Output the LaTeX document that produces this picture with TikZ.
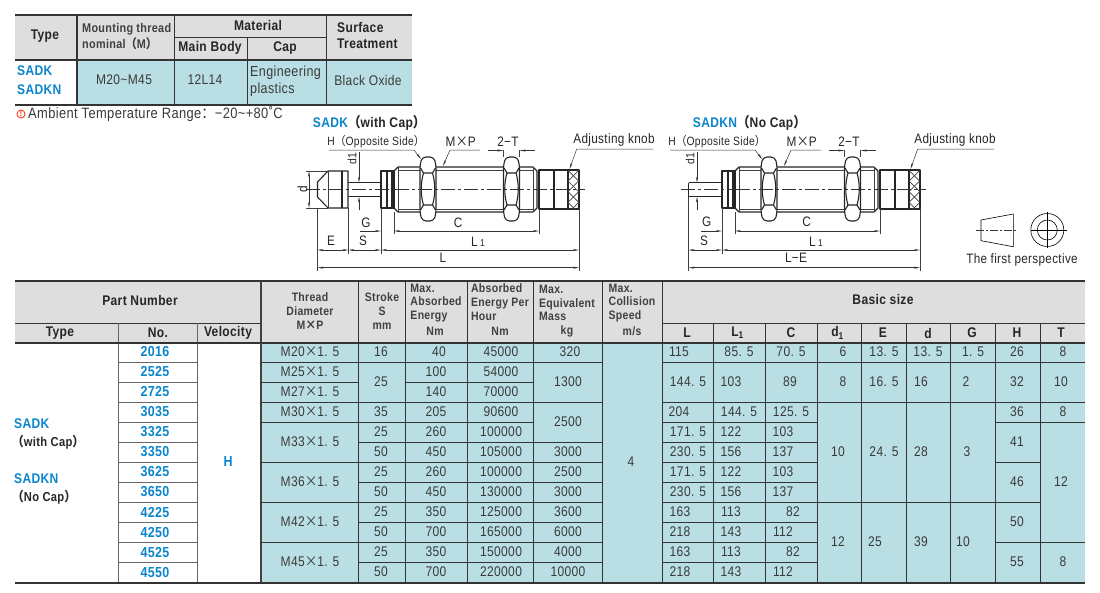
\documentclass[tikz,border=0pt]{standalone}
\usepackage{fontspec}
\setmainfont{Liberation Sans}[FakeStretch=0.86,LetterSpace=2.5]
\newfontfamily\cjk{Noto Sans CJK SC}[FakeStretch=0.9]
\usetikzlibrary{arrows.meta}
\definecolor{headgray}{HTML}{DEDEDE}
\definecolor{cellblue}{HTML}{B9DFE5}
\definecolor{typeblue}{HTML}{0A85CC}
\definecolor{inkgray}{HTML}{3A3A3A}
\newcommand{\fs}[1]{\fontsize{#1}{#1}\selectfont}
\newcommand{\lpar}{{\cjk （}}
\newcommand{\rpar}{{\cjk ）}}
\newcommand{\tms}{{\cjk ×}}
\newcommand{\lone}{L{\fs{10} 1}}
\tikzset{
    cellrule/.style={line width=0.7pt,color=black!80},
    thickrule/.style={line width=2pt,color=black!80},
    celltext/.style={inner sep=0pt,text=inkgray,font=\fs{14}},
    headtext/.style={inner sep=0pt,text=black!85,font=\fs{14}\bfseries},
    smallhead/.style={inner sep=0pt,text=black!75,font=\fs{12.2}\bfseries,align=left},
    typetext/.style={inner sep=0pt,text=typeblue,font=\fs{14}\bfseries},
    outline/.style={line width=1.1pt,black!85,line join=round},
    thinline/.style={line width=0.5pt,black!75},
    centerline/.style={line width=0.5pt,black!80,dash pattern=on 14pt off 3pt on 3pt off 3pt},
    dimline/.style={line width=0.5pt,black!80,{Stealth[length=6pt,width=2pt]}-{Stealth[length=6pt,width=2pt]}},
    leader/.style={line width=0.5pt,black!80,-{Stealth[length=6pt,width=2pt]}},
    dimtext/.style={inner sep=0pt,text=black!85,font=\fs{13.7}},
}
% one column of the main table: row/span/x/text
\newcommand{\tabcol}[4]{
    \foreach \rowno/\spanno/\tx/\ttext in {#4} {
        \draw [cellrule] (#2,{342+20*(\rowno-1)}) -- (#3,{342+20*(\rowno-1)});
        \node [celltext] (#1-\rowno) at (\tx,{342+20*(\rowno-1)+10*\spanno}) {\ttext};
    }
}
% the parts that both shock absorbers share
\newcommand{\hexnut}[1]{
    \draw [outline,fill=white,rounded corners=4pt] (#1+2,157) -- (#1+14,157) -- (#1+16,165) -- (#1+16,213) -- (#1+14,221) -- (#1+2,221) -- (#1,213) -- (#1,165) -- cycle;
    \draw [outline] (#1+0.5,168) -- (#1+3.5,173) -- (#1+12.5,173) -- (#1+15.5,168);
    \draw [outline] (#1+0.5,210) -- (#1+3.5,205) -- (#1+12.5,205) -- (#1+15.5,210);
    \draw [outline] (#1+3.5,173) .. controls (#1+0.5,183) and (#1+0.5,195) .. (#1+3.5,205);
    \draw [outline] (#1+12.5,173) .. controls (#1+15.5,183) and (#1+15.5,195) .. (#1+12.5,205);
}
\newcommand{\shockbody}[1]{
    \draw [outline] (381,171) rectangle (394,208);
    \draw [outline] (387,171) -- (387,208);
    \draw [outline] (392,171) -- (392,208);
    \draw [outline] (394,171) -- (398,167) -- (533,167) -- (537,171) -- (537,208) -- (533,212) -- (398,212) -- (394,208);
    \draw [line width=0.8pt,black!75] (398,170) -- (533,170);
    \draw [line width=0.8pt,black!75] (398,209.5) -- (533,209.5);
    \draw [thinline] (398,167) -- (398,212) (533,167) -- (533,212);
    \draw [outline] (539,170) rectangle (579,209);
    \draw [line width=2.2pt,black!85] (539,170) -- (539,209);
    \draw [outline] (554,170) -- (554,209) (568,170) -- (568,209);
    \begin{scope}
        \clip (568,170) rectangle (579,209);
        \foreach \h in {149,159.667,...,235} {
            \draw [line width=0.7pt,black!75] (568,\h) -- (600,\h+32);
            \draw [line width=0.7pt,black!75] (568,\h) -- (600,\h-32);
        }
    \end{scope}
    \hexnut{420}
    \hexnut{503.5}
    \draw [centerline] (395,189.3) -- (585,189.3);
    % leaders and dimensions
    \node [dimtext,font=\fs{12}] (hside-#1) at (376,142) {H\lpar Opposite Side\rpar};
    \draw [leader] (329,150) -- (414,150) -- (421,159);
    \node [dimtext] (mxp-#1) at (460.7,142) {M\tms P};
    \draw [leader] (480,150) -- (450,150) -- (443,166);
    \node [dimtext] (twot-#1) at (508,142) {2−T};
    \draw [thinline] (503.5,150) -- (503.5,157) (519.5,150) -- (519.5,157);
    \draw [leader] (488,150.5) -- (503.5,150.5);
    \draw [leader] (535,150.5) -- (519.5,150.5);
    \node [dimtext] (knob-#1) at (614,140) {Adjusting knob};
    \draw [leader] (653,149) -- (576.7,149) -- (569.5,169);
    \draw [thinline] (394,212) -- (394,234) (539,209) -- (539,234);
    \draw [thinline] (381,208) -- (381,254);
    \draw [thinline] (579,209) -- (579,271);
    \draw [dimline] (394,231) -- (539,231);
    \draw [dimline] (381,250) -- (579,250);
    \draw [leader] (360,231) -- (381,231);
}
\begin{document}
\begin{tikzpicture}[x=1pt,y=-1pt]
    \useasboundingbox (0,0) rectangle (1100,592);
    % top table
    \fill [headgray] (15,15) rectangle (411.5,60);
    \fill [cellblue] (77,60) rectangle (411.5,105);
    \draw [thickrule] (15,15) -- (411.5,15);
    \draw [thickrule] (15,60) -- (411.5,60);
    \draw [thickrule] (15,105) -- (411.5,105);
    \draw [thickrule] (77,15) -- (77,105);
    \draw [cellrule] (174,15) -- (174,105);
    \draw [cellrule] (247,37.5) -- (247,105);
    \draw [cellrule] (326,15) -- (326,105);
    \draw [cellrule] (174,37.5) -- (326,37.5);
    \node [headtext] (toptype) at (45,36) {Type};
    \node [smallhead,anchor=west,font=\fs{12.6}\bfseries] (topthread) at (82,29) {Mounting thread};
    \node [smallhead,anchor=west,font=\fs{12.6}\bfseries] (topnom) at (82,44) {nominal\lpar M\rpar};
    \node [headtext] (topmat) at (258,25) {Material};
    \node [headtext] (topbody) at (210,48) {Main Body};
    \node [headtext] (topcap) at (285,48) {Cap};
    \node [headtext,anchor=west] (topsurf) at (337,27) {Surface};
    \node [headtext,anchor=west] (toptreat) at (337,44) {Treatment};
    \node [typetext,anchor=west] (topa) at (17,71) {SADK};
    \node [typetext,anchor=west] (topb) at (17,90) {SADKN};
    \node [celltext,font=\fs{14}] (topm) at (124,80) {M20\textasciitilde M45};
    \node [celltext,font=\fs{14}] (topl) at (205,80) {12L14};
    \node [celltext,font=\fs{14.6},anchor=west] (tope) at (250,73) {Engineering};
    \node [celltext,font=\fs{14.6},anchor=west] (topp) at (250,90) {plastics};
    \node [celltext,font=\fs{14}] (topo) at (368,80) {Black Oxide};
    \node [circle,draw=red!70!orange,line width=0.8pt,inner sep=0pt,minimum size=8pt,text=red!70!orange,font=\fs{8}\bfseries] (warn) at (21,114) {!};
    \node [celltext,font=\fs{15},anchor=west] (ambient) at (28,114) {Ambient Temperature Range{\cjk ：}−20\textasciitilde +80˚C};
    % titles
    \node [headtext,anchor=west,font=\fs{14}\bfseries] (titlea) at (312.7,123) {\textcolor{typeblue}{SADK}\lpar with Cap\rpar};
    \node [headtext,anchor=west,font=\fs{14}\bfseries] (titleb) at (692.7,123) {\textcolor{typeblue}{SADKN}\lpar No Cap\rpar};
    % SADK with cap
    \shockbody{a}
    \draw [centerline] (306,189.3) -- (395,189.3);
    \draw [outline] (317.5,182) -- (328,171) -- (348,171) -- (348,208) -- (328,208) -- (317.5,197) -- cycle;
    \draw [outline] (342,171) -- (342,208);
    \draw [thinline] (328,171) -- (328,208);
    \draw [outline] (348,182.7) -- (381,182.7) (348,196.7) -- (381,196.7);
    \draw [thinline] (328,171) -- (306,171) (328,208) -- (306,208);
    \draw [dimline] (309,171) -- (309,208);
    \node [dimtext,rotate=90] (da) at (302.5,189) {d};
    \draw [leader] (359,152) -- (359,182.7);
    \draw [leader] (359,210) -- (359,196.7);
    \node [dimtext,rotate=90,font=\fs{12}] (dia) at (352,159) {d1};
    \node [dimtext] (ga) at (366,222.7) {G};
    \node [dimtext] (ca) at (458,222.7) {C};
    \node [dimtext] (ea) at (331,241) {E};
    \node [dimtext] (sa) at (363,241) {S};
    \node [dimtext] (la) at (478,241.5) {\lone};
    \node [dimtext] (lla) at (443,258) {L};
    \draw [thinline] (317.5,208) -- (317.5,271) (348.5,208) -- (348.5,254);
    \draw [dimline] (317.5,250) -- (348.5,250);
    \draw [dimline] (348.5,250) -- (381,250);
    \draw [dimline] (317.5,267.7) -- (579,267.7);
    % SADKN without cap
    \begin{scope}[shift={(341,0)}]
        \shockbody{b}
        \draw [centerline] (340,189.3) -- (395,189.3);
        \draw [outline] (347.5,182.7) -- (381,182.7) (347.5,196.7) -- (381,196.7);
        \draw [outline] (347.5,182.7) -- (347.5,196.7);
        \draw [leader] (356,152) -- (356,182.7);
        \draw [leader] (356,210) -- (356,196.7);
        \node [dimtext,rotate=90,font=\fs{12}] (dib) at (349,159) {d1};
        \node [dimtext] (gb) at (365.7,222) {G};
        \node [dimtext] (cb) at (465.7,222) {C};
        \node [dimtext] (sb) at (363,241) {S};
        \node [dimtext] (lb) at (475,241.5) {\lone};
        \node [dimtext] (llb) at (455,258) {L−E};
        \draw [thinline] (347.5,197) -- (347.5,271);
        \draw [dimline] (347.5,250) -- (381,250);
        \draw [dimline] (347.5,267.7) -- (579,267.7);
    \end{scope}
    % projection symbol
    \draw [line width=0.6pt] (981,220) -- (1013.3,214) -- (1013.3,246.7) -- (981,240.7) -- cycle;
    \draw [centerline,dash pattern=on 8pt off 2pt on 2pt off 2pt] (976,230) -- (1017,230);
    \draw [line width=0.6pt] (1047.3,230) circle (16.5) (1047.3,230) circle (10);
    \draw [line width=0.5pt] (1030.5,230) -- (1066.7,230) (1047.3,211.7) -- (1047.3,248);
    \node [dimtext,font=\fs{13.6}] (firstp) at (1022,260) {The first perspective};
    % main table
    \fill [headgray] (15,281) rectangle (1084.5,343);
    \fill [cellblue] (261,343) rectangle (1084.5,583);
    \draw [cellrule] (15,323) -- (261,323);
    \draw [cellrule] (662,323) -- (1084.5,323);
    \foreach \vx in {118,197} {
        \draw [cellrule,black!60] (\vx,323) -- (\vx,583);
    }
    \foreach \vx in {358,405,467,533,602,662} {
        \draw [cellrule] (\vx,281) -- (\vx,583);
    }
    \foreach \vx in {713,765,817,861,906,950,995,1040} {
        \draw [cellrule] (\vx,323) -- (\vx,583);
    }
    \foreach \rowno/\pno in {1/2016,2/2525,3/2725,4/3035,5/3325,6/3350,7/3625,8/3650,9/4225,10/4250,11/4525,12/4550} {
        \draw [cellrule,black!60] (118,{342+20*(\rowno-1)}) -- (197,{342+20*(\rowno-1)});
        \node [typetext,font=\fs{14.5}\bfseries] (no-\rowno) at (155,{352+20*(\rowno-1)}) {\pno};
    }
    \tabcol{mp}{261}{358}{1/1/310/M20\tms 1. 5,2/1/310/M25\tms 1. 5,3/1/310/M27\tms 1. 5,4/1/310/M30\tms 1. 5,5/2/310/M33\tms 1. 5,7/2/310/M36\tms 1. 5,9/2/310/M42\tms 1. 5,11/2/310/M45\tms 1. 5}
    \tabcol{st}{358}{405}{1/1/381/16,2/2/381/25,4/1/381/35,5/1/381/25,6/1/381/50,7/1/381/25,8/1/381/50,9/1/381/25,10/1/381/50,11/1/381/25,12/1/381/50}
    \tabcol{en}{405}{467}{1/1/439/40,2/1/436/100,3/1/436/140,4/1/436/205,5/1/436/260,6/1/436/450,7/1/436/260,8/1/436/450,9/1/436/350,10/1/436/700,11/1/436/350,12/1/436/700}
    \tabcol{eh}{467}{533}{1/1/501/45000,2/1/501/54000,3/1/501/70000,4/1/501/90600,5/1/501/100000,6/1/501/105000,7/1/501/100000,8/1/501/130000,9/1/501/125000,10/1/501/165000,11/1/501/150000,12/1/501/220000}
    \tabcol{ma}{533}{602}{1/1/570/320,2/2/568/1300,4/2/568/2500,6/1/568/3000,7/1/568/2500,8/1/568/3000,9/1/568/3600,10/1/568/6000,11/1/568/4000,12/1/568/10000}
    \tabcol{li}{662}{713}{1/1/679/115,2/2/688/144. 5,4/1/679/204,5/1/688/171. 5,6/1/688/230. 5,7/1/688/171. 5,8/1/688/230. 5,9/1/680/163,10/1/680/218,11/1/680/163,12/1/680/218}
    \tabcol{lo}{713}{765}{1/1/739/85. 5,2/2/731/103,4/1/739/144. 5,5/1/731/122,6/1/731/156,7/1/731/122,8/1/731/156,9/1/731/113,10/1/731/143,11/1/731/113,12/1/731/143}
    \tabcol{co}{765}{817}{1/1/791/70. 5,2/2/790/89,4/1/791/125. 5,5/1/783/103,6/1/783/137,7/1/783/103,8/1/783/137,9/1/793/82,10/1/783/112,11/1/793/82,12/1/783/112}
    \tabcol{di}{817}{861}{1/1/843/6,2/2/843/8,4/5/838/10,9/4/838/12}
    \tabcol{ee}{861}{906}{1/1/884/13. 5,2/2/884/16. 5,4/5/884/24. 5,9/4/875/25}
    \tabcol{dd}{906}{950}{1/1/928/13. 5,2/2/921/16,4/5/921/28,9/4/921/39}
    \tabcol{gg}{950}{995}{1/1/973/1. 5,2/2/966/2,4/5/967/3,9/4/963/10}
    \tabcol{hh}{995}{1040}{1/1/1017/26,2/2/1017/32,4/1/1017/36,5/2/1017/41,7/2/1017/46,9/2/1017/50,11/2/1017/55}
    \tabcol{tt}{1040}{1084.5}{1/1/1063/8,2/2/1061/10,4/1/1063/8,5/6/1061/12,11/2/1063/8}
    \node [celltext] (speed) at (631,462) {4};
    \node [typetext,font=\fs{14.5}\bfseries] (veloh) at (228,462) {H};
    \draw [thickrule] (15,281) -- (1084.5,281);
    \draw [thickrule] (15,343) -- (1084.5,343);
    \draw [thickrule] (15,583) -- (1084.5,583);
    \draw [line width=2.5pt,black!75] (261,281) -- (261,583);
    % main header
    \node [headtext] (partno) at (140,300) {Part Number};
    \node [headtext] (basic) at (883,299) {Basic size};
    \node [headtext] (htype) at (60,333) {Type};
    \node [headtext] (hno) at (158,333) {No.};
    \node [headtext] (hvel) at (228,333) {Velocity};
    \foreach \hname/\hx/\hlabel in {l/687/L,lone/738/L$_{\mathbf 1}$,c/791/C,done/838/d$_{\mathbf 1}$,e/883/E,d/928/d,g/972/G,h/1017/H,t/1061/T} {
        \node [headtext] (h\hname) at (\hx,333) {\hlabel};
    }
    \node [smallhead,align=center] (hthread) at (310,311) {Thread\\[1.5pt]Diameter\\[1.5pt]M\tms P};
    \node [smallhead,align=center] (hstroke) at (382,311) {Stroke\\[1.5pt]S\\[1.5pt]mm};
    \node [smallhead] (hmaxa) at (436,303) {Max.\\[1.5pt]Absorbed\\[1.5pt]Energy};
    \node [smallhead] (hnma) at (435,331) {Nm};
    \node [smallhead] (habs) at (500,302) {Absorbed\\[1.5pt]Energy Per\\[1.5pt]Hour};
    \node [smallhead] (hnmb) at (500,331) {Nm};
    \node [smallhead] (hequ) at (567,303) {Max.\\[1.5pt]Equivalent\\[1.5pt]Mass};
    \node [smallhead] (hkg) at (567,331) {kg};
    \node [smallhead] (hcol) at (632,303) {Max.\\[1.5pt]Collision\\[1.5pt]Speed};
    \node [smallhead] (hms) at (632,331) {m/s};
    % type labels
    \node [typetext,anchor=west] (rowa) at (14,424) {SADK};
    \node [headtext,anchor=west,font=\fs{13}\bfseries] (rowb) at (12,442) {\lpar with Cap\rpar};
    \node [typetext,anchor=west] (rowc) at (14,479) {SADKN};
    \node [headtext,anchor=west,font=\fs{13}\bfseries] (rowd) at (12,497) {\lpar No Cap\rpar};
\end{tikzpicture}
\end{document}
